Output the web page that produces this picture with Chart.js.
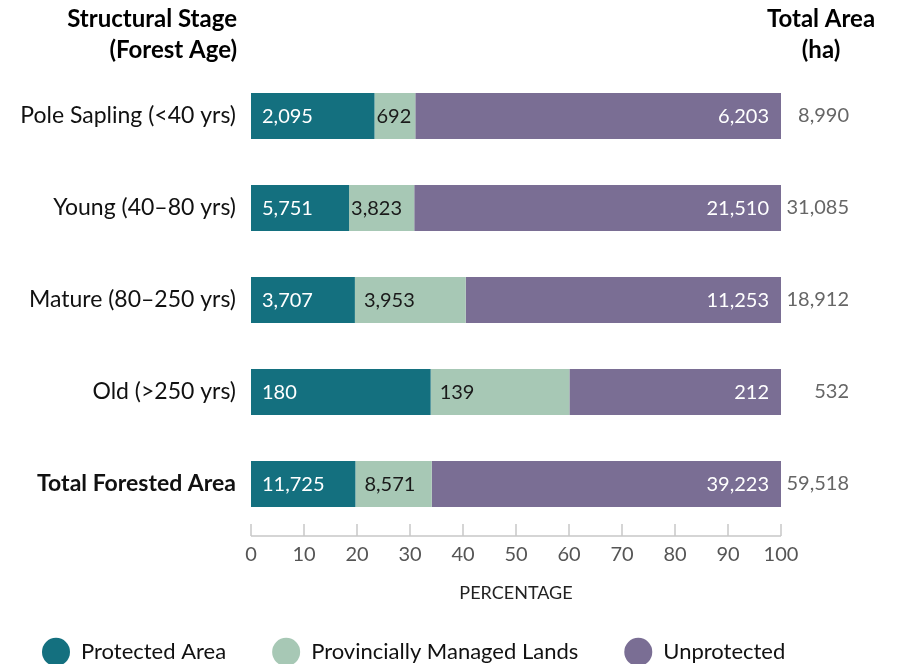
<!DOCTYPE html>
<html><head><meta charset="utf-8">
<script src="https://cdn.jsdelivr.net/npm/chart.js@4.4.1/dist/chart.umd.min.js"></script>
<style>
html,body{margin:0;padding:0;background:#fff;overflow:hidden;}
#wrap{position:relative;width:897px;height:673px;}
</style></head><body>
<div id="wrap"><canvas id="c" width="897" height="673" style="width:897px;height:673px"></canvas></div>
<script>
// ---- data ----
const categories = ['Pole Sapling (<40 yrs)', 'Young (40–80 yrs)', 'Mature (80–250 yrs)', 'Old (>250 yrs)', 'Total Forested Area'];
const protectedArea = [2095, 5751, 3707, 180, 11725];
const provincialLands = [692, 3823, 3953, 139, 8571];
const unprotectedArea = [6203, 21510, 11253, 212, 39223];
const totalArea = [8990, 31085, 18912, 532, 59518];
const xTickValues = [0, 10, 20, 30, 40, 50, 60, 70, 80, 90, 100];
const seriesNames = ['Protected Area', 'Provincially Managed Lands', 'Unprotected'];
const seriesColors = ['#14707f', '#a7c8b5', '#7a6e94'];

const FONT = 'Lato, "Open Sans", sans-serif';
Chart.defaults.font.family = FONT;
const fmt = v => v.toLocaleString('en-US');
const rowSums = categories.map((_, i) => protectedArea[i] + provincialLands[i] + unprotectedArea[i]);
const toPct = arr => arr.map((v, i) => v / rowSums[i] * 100);
const rawSeries = [protectedArea, provincialLands, unprotectedArea];

const extras = {
  id: 'extras',
  afterDraw(chart) {
    const ctx = chart.ctx, xs = chart.scales.x, ys = chart.scales.y, ca = chart.chartArea;
    ctx.save();
    // axis line and tick marks
    ctx.strokeStyle = '#c8c8c8';
    ctx.lineWidth = 1.5;
    ctx.beginPath();
    const ly = ca.bottom + 6;
    ctx.moveTo(xs.getPixelForValue(xTickValues[0]), ly);
    ctx.lineTo(xs.getPixelForValue(xTickValues[xTickValues.length - 1]), ly);
    xs.ticks.forEach(t => {
      const px = xs.getPixelForValue(t.value);
      ctx.moveTo(px, ly - 12);
      ctx.lineTo(px, ly);
    });
    ctx.stroke();
    // headers
    ctx.fillStyle = '#000';
    ctx.font = 'bold 24px ' + FONT;
    ctx.textBaseline = 'alphabetic';
    ctx.textAlign = 'right';
    ctx.fillText('Structural Stage', ys.right - 14, 27);
    ctx.fillText('(Forest Age)', ys.right - 14, 58);
    ctx.textAlign = 'center';
    ctx.fillText('Total Area', ca.right + 40, 27);
    ctx.fillText('(ha)', ca.right + 40, 58);
    ctx.restore();
  },
  afterDatasetsDraw(chart) {
    const ctx = chart.ctx;
    ctx.save();
    ctx.font = '20px ' + FONT;
    ctx.textBaseline = 'middle';
    chart.data.datasets.forEach((ds, di) => {
      const meta = chart.getDatasetMeta(di);
      meta.data.forEach((bar, i) => {
        const txt = fmt(rawSeries[di][i]);
        const left = Math.min(bar.base, bar.x), right = Math.max(bar.base, bar.x);
        const w = right - left;
        const tw = ctx.measureText(txt).width;
        if (di === 0) {
          ctx.fillStyle = '#fff'; ctx.textAlign = 'left';
          ctx.fillText(txt, left + 11, bar.y + 1);
        } else if (di === 1) {
          ctx.fillStyle = '#1a1a1a'; ctx.textAlign = 'left';
          const pad = (w - tw >= 15) ? 9 : 2;
          ctx.fillText(txt, left + pad, bar.y + 1);
        } else {
          ctx.fillStyle = '#fff'; ctx.textAlign = 'right';
          ctx.fillText(txt, right - 12, bar.y + 1);
        }
      });
    });
    ctx.restore();
  }
};

new Chart(document.getElementById('c'), {
  type: 'bar',
  data: {
    labels: categories,
    datasets: [0, 1, 2].map(k => ({
      label: seriesNames[k],
      data: toPct(rawSeries[k]),
      backgroundColor: seriesColors[k],
      borderWidth: 0,
      categoryPercentage: 1,
      barPercentage: 0.5
    }))
  },
  options: {
    indexAxis: 'y',
    responsive: false,
    animation: false,
    layout: { padding: { top: 70, right: 48, left: -4, bottom: 0 } },
    plugins: {
      tooltip: { enabled: false },
      legend: {
        position: 'bottom',
        align: 'start',
        labels: {
          usePointStyle: true,
          pointStyle: 'circle',
          pointStyleWidth: 28,
          boxHeight: 20,
          padding: 46,
          color: '#111',
          font: { size: 22 }
        }
      }
    },
    scales: {
      x: {
        stacked: true,
        min: 0, max: 100,
        grid: { display: false, drawTicks: false },
        border: { display: false },
        afterBuildTicks: s => { s.ticks = xTickValues.map(v => ({ value: v })); },
        ticks: { color: '#555', font: { size: 20 }, padding: 13, maxRotation: 0, autoSkip: false },
        title: { display: true, text: 'PERCENTAGE', color: '#222', font: { size: 18, lineHeight: 1 }, padding: { top: 0, bottom: -7 } },
        afterFit: s => { s.height = 65; }
      },
      y: {
        stacked: true,
        grid: { display: false, drawTicks: false },
        border: { display: false },
        ticks: {
          color: '#111',
          padding: 15,
          font: c => ({ size: 23, weight: c.index === 4 ? 'bold' : 'normal' })
        },
        afterFit: s => { s.width = 255; }
      },
      y2: {
        type: 'category',
        labels: totalArea.map(fmt),
        position: 'right',
        offset: true,
        grid: { display: false, drawTicks: false },
        border: { display: false },
        ticks: { color: '#666', font: { size: 20 }, padding: 12, crossAlign: 'far' },
        afterFit: s => { s.width = 68; }
      }
    }
  },
  plugins: [extras]
});
</script>
</body></html>
